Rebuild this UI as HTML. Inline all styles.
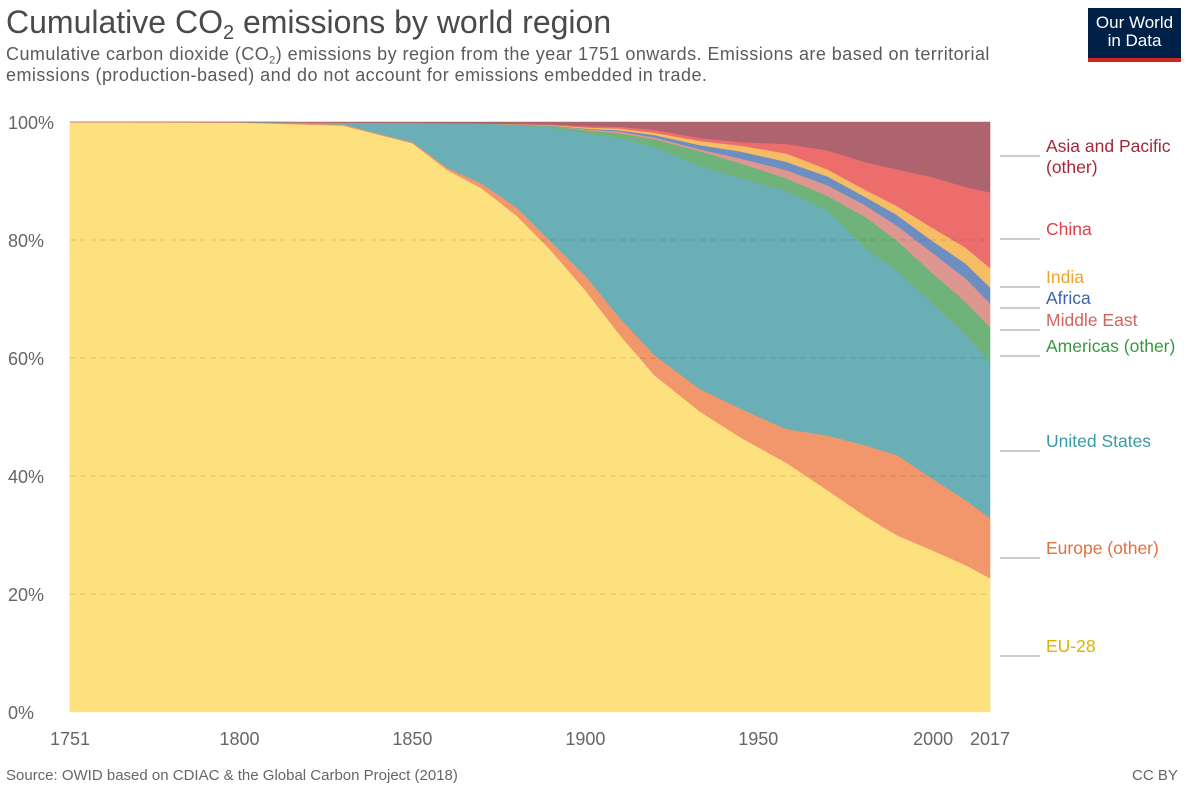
<!DOCTYPE html>
<html><head><meta charset="utf-8"><style>
body{margin:0;background:#fff;font-family:"Liberation Sans",sans-serif;width:1189px;height:793px;overflow:hidden;position:relative}
.t{position:absolute;white-space:nowrap}
sub{line-height:0;vertical-align:-0.3em}
</style></head><body>
<div class="t" style="left:6px;top:4px;font-size:32px;color:#4a4a4a">Cumulative CO<sub style="font-size:20px">2</sub> emissions by world region</div>
<div class="t" style="left:6px;top:44px;font-size:18px;letter-spacing:0.45px;color:#5b5b5b;line-height:21px">Cumulative carbon dioxide (CO<sub style="font-size:11px">2</sub>) emissions by region from the year 1751 onwards. Emissions are based on territorial<br>emissions (production-based) and do not account for emissions embedded in trade.</div>
<div style="position:absolute;left:1088px;top:8px;width:93px;height:54px;background:#002147;border-bottom:4px solid #ce261e;box-sizing:border-box;color:#fff;font-size:17px;line-height:18px;text-align:center;padding-top:6px">Our World<br>in Data</div>
<svg id="chart" width="1189" height="793" style="position:absolute;left:0;top:0"></svg>
<div class="t" style="left:6px;top:767px;font-size:15px;color:#666">Source: OWID based on CDIAC &amp; the Global Carbon Project (2018)</div>
<div class="t" style="left:1132px;top:767px;font-size:15px;color:#666">CC BY</div>
<script>
const years=[1751,1800,1830,1850,1860,1870,1880,1890,1900,1910,1920,1933,1945,1958,1970,1981,1990,2000,2010,2017];
const eu28=[100,99.9,99.4,96.4,91.9,88.8,84.2,78.3,71.5,63.9,57.1,51,46.5,42.3,37.6,33.2,30,27.5,24.9,22.7];
const europeOther=[0,0.05,0.2,0.2,0.4,0.8,1.4,1.5,2.5,2.9,3.4,3.8,4.9,5.7,9.3,12,13.6,12.2,11,10.2];
const unitedStates=[0,0.05,0.3,3.2,7.5,10.1,13.9,19.3,24.1,30.5,35.3,37.8,39.1,40.3,38.1,33.4,31.3,29.8,28.1,26.4];
const americasOther=[0,0,0,0.05,0,0.05,0.1,0.2,0.5,0.8,1.3,2.5,2.5,2.2,2.5,5.3,5.1,5.1,5.5,6];
const middleEast=[0,0,0,0,0,0,0,0,0.2,0.3,0.3,0.3,0.8,1.4,1.8,2,2.5,3.4,4,4];
const africa=[0,0,0,0,0,0,0,0.1,0.1,0.2,0.4,0.7,1.2,1.4,1.5,1.4,1.8,2,2.5,2.7];
const india=[0,0,0,0,0,0,0.05,0.1,0.2,0.3,0.4,0.7,1,1.4,1.2,1.2,1.5,2.2,2.7,3.3];
const china=[0,0,0,0,0,0,0.05,0.1,0.2,0.3,0.5,0.5,0.6,1.6,3.2,4.7,6.2,8.5,10.3,12.8];
const asiaPacific=[0,0,0.1,0.15,0.2,0.25,0.3,0.4,0.7,0.8,1.3,2.7,3.4,3.7,4.8,6.8,8,9.3,11,11.9];
const yTicks=[0,20,40,60,80,100];
const xTicks=[1751,1800,1850,1900,1950,2000,2017];

const series=[
 {name:"EU-28",v:eu28,c:"#fde17e",lc:"#e0b000",ly:646},
 {name:"Europe (other)",v:europeOther,c:"#f2966b",lc:"#e0703f",ly:548},
 {name:"United States",v:unitedStates,c:"#6aafb6",lc:"#3a9aa4",ly:441},
 {name:"Americas (other)",v:americasOther,c:"#70b37a",lc:"#3b973f",ly:346},
 {name:"Middle East",v:middleEast,c:"#dd9790",lc:"#d2645e",ly:320},
 {name:"Africa",v:africa,c:"#6d8ec0",lc:"#3c62b4",ly:298},
 {name:"India",v:india,c:"#f6bd64",lc:"#f0a22a",ly:277},
 {name:"China",v:china,c:"#ed6d6d",lc:"#e0404b",ly:229},
 {name:"Asia and Pacific\n(other)",v:asiaPacific,c:"#ae646e",lc:"#a3283a",ly:146}
];
const X0=70,X1=990,Y0=712,Y1=122;
const sx=y=>X0+(y-1751)/(2017-1751)*(X1-X0);
const sy=p=>Y0-p/100*(Y0-Y1);
const svg=document.getElementById('chart');
const NS="http://www.w3.org/2000/svg";
function mk(t,a){const e=document.createElementNS(NS,t);for(const k in a)e.setAttribute(k,a[k]);svg.appendChild(e);return e;}
const totals=years.map((_,i)=>series.reduce((s,r)=>s+r.v[i],0));
let base=years.map(()=>0);
series.forEach(s=>{
  const top=base.map((b,i)=>b+s.v[i]/totals[i]*100);
  let d="M"+years.map((y,i)=>sx(y)+","+sy(top[i])).join("L");
  for(let i=years.length-1;i>=0;i--)d+="L"+sx(years[i])+","+sy(base[i]);
  const p=mk('path',{d:d+"Z",fill:s.c,stroke:s.c,'stroke-width':0.6});
  
  
  base=top;
});
yTicks.forEach(t=>{
  if(t>0&&t<100){const l=mk('line',{x1:X0,x2:X1,y1:sy(t),y2:sy(t),stroke:'#000','stroke-opacity':0.12,'stroke-dasharray':'6,4'});
  
  }
  const tx=mk('text',{x:8,y:sy(t)+7,'font-size':18,fill:'#666'});tx.textContent=t+"%";
  
  
});
xTicks.forEach(t=>{
  const tx=mk('text',{x:sx(t),y:745,'font-size':18,fill:'#666','text-anchor':t===2000?'end':'middle'});
  if(t===2000)tx.setAttribute('x',sx(t)+22);
  tx.textContent=t;
  
  
});
series.forEach(s=>{
  const l=mk('polyline',{points:`1000,${s.ly+10} 1040,${s.ly+10}`,fill:'none',stroke:'#999','stroke-width':1});
  
  
  s.name.split('\n').forEach((ln,j)=>{
    const tx=mk('text',{x:1046,y:s.ly+6+j*21,'font-size':17.5,fill:s.lc});tx.textContent=ln;
    
    
  });
});
</script>
</body></html>
